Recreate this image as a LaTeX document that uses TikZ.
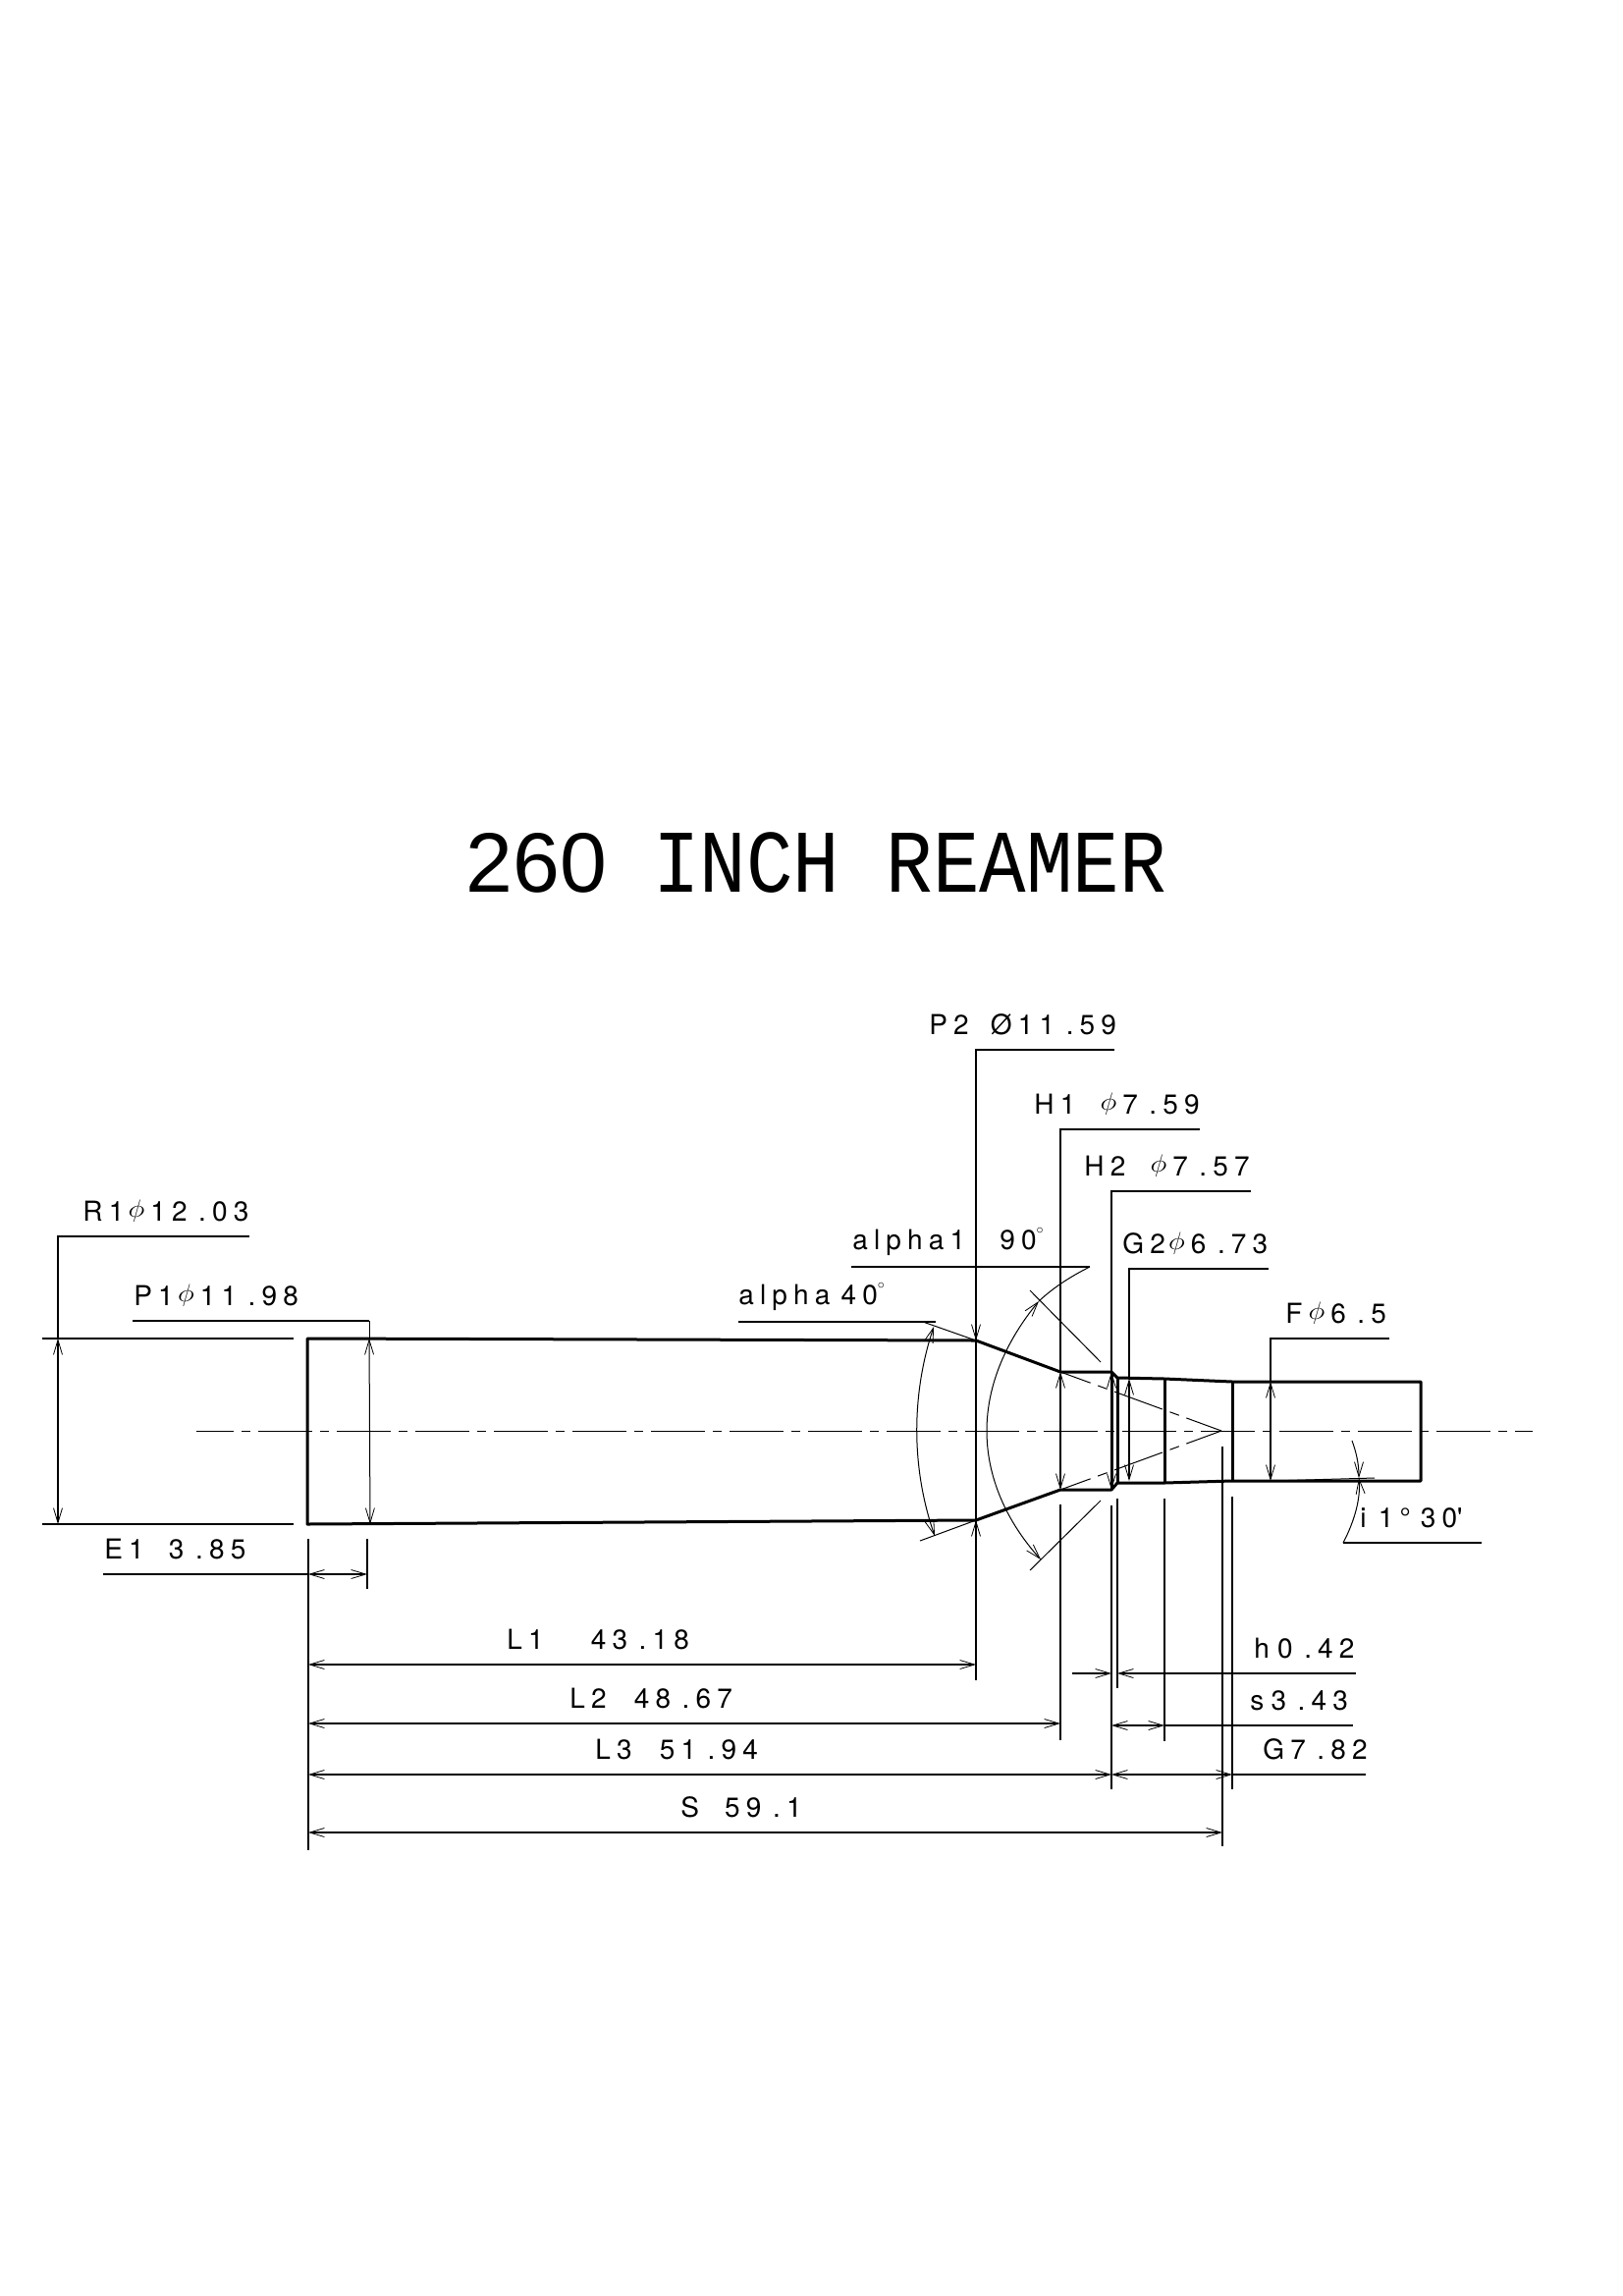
\documentclass[tikz,border=0pt]{standalone}
\usepackage{fontspec}
\usetikzlibrary{arrows.meta}
\newfontfamily\dimfont[LetterSpace=22]{TeX Gyre Heros}
\newfontfamily\titlefont[FakeStretch=0.87]{Liberation Mono}
\newfontfamily\titlenum{Liberation Sans}
\newcommand{\gapw}[1]{\hspace{\dimexpr#1pt+3.08pt\relax}}
\newcommand{\dia}{\gapw{0}\raisebox{.14em}{\scalebox{1}[.88]{$\phi$}}\hspace{3pt}}
\newcommand{\pd}{\gapw{2.7}.}
\newcommand{\degmark}{\raisebox{4pt}{\scalebox{.7}{$^{\circ}$}}}
\tikzset{
	x=.5pt,y=-.5pt,
	tip/.tip={Straight Barb[length=7.5pt,width=4.5pt,line width=.4pt]},
	part/.style={line width=1.5pt,line join=round},
	dim/.style={line width=.75pt},
	hair/.style={line width=.5pt},
	axis/.style={hair,dash pattern=on 27.5pt off 4pt on 4.5pt off 4pt,dash phase=8.5pt},
	cone/.style={hair,dash pattern=on 26pt off 4pt on 5pt off 4pt,dash phase=7pt},
	lbl/.style={anchor=base west,inner sep=0pt,font=\dimfont\fontsize{14pt}{16pt}\selectfont},
}
\begin{document}
\begin{tikzpicture}
		\useasboundingbox (0,0) rectangle (1653,2338);
		\node[anchor=base west,inner sep=0pt,font=\titlefont\fontsize{45.5pt}{50pt}\selectfont] (title) at (474,908) {{\titlenum\fontsize{43pt}{50pt}\selectfont 260} INCH REAMER};

		\draw[part] (313,1363)--(994,1365)--(1080,1397)--(1132,1397)--(1138,1403)--(1186,1404)--(1255,1407)--(1447,1407)--(1447,1508)--(1255,1508)--(1186,1510)--(1138,1510)--(1132,1517)--(1080,1517)--(994,1548)--(313,1552)--cycle;
		\draw[part] (1132,1397)--(1132,1517);
		\draw[part] (1138,1403)--(1138,1510);
		\draw[part] (1186,1404)--(1186,1510);
		\draw[part] (1255,1407)--(1255,1508);

		\draw[axis] (200,1457)--(1561,1457);
		\draw[cone] (1244,1457)--(1080,1397);
		\draw[cone] (1244,1457)--(1080,1517);

		\node[lbl] (R1) at (84,1243) {R1\gapw{-4}\dia12\pd03};
		\draw[dim] (254,1259)--(59,1259)--(59,1363);
		\draw[dim,tip-tip] (59,1363)--(59,1552);
		\draw[dim] (43,1363)--(299,1363);
		\draw[dim] (43,1552)--(299,1552);

		\node[lbl] (P1) at (136,1329) {P1\gapw{-4}\dia11\pd98};
		\draw[dim] (135,1345)--(376,1345);
		\draw[hair] (376,1345)--(376,1363);
		\draw[hair,tip-tip] (376,1363)--(377,1552);

		\node[lbl] (E1) at (106,1587) {E1\gapw{9.5}3\pd85};
		\draw[dim] (105,1603)--(314,1603);
		\draw[dim,tip-tip] (314,1603)--(374,1603);
		\draw[dim] (374,1567)--(374,1618);
		\draw[dim] (314,1567)--(314,1884);

		\node[lbl] (P2) at (946,1053) {P2\gapw{8}Ø11\pd59};
		\draw[dim] (1135,1069)--(994,1069)--(994,1711);
		\draw[dim,-tip] (994,1340)--(994,1365);
		\draw[dim,-tip] (994,1575)--(994,1548);

		\node[lbl] (H1) at (1053,1134) {H1\gapw{6.5}\dia7\pd59};
		\draw[dim] (1222,1150)--(1080,1150)--(1080,1397);
		\draw[dim,tip-tip] (1080,1397)--(1080,1517);
		\draw[dim] (1080,1532)--(1080,1772);

		\node[lbl] (H2) at (1104,1197) {H2\gapw{6.5}\dia7\pd57};
		\draw[dim] (1274,1213)--(1132,1213)--(1132,1397);
		\draw[dim,tip-tip] (1132,1397)--(1132,1517);
		\draw[dim] (1132,1533)--(1132,1822);
		\draw[dim] (1138,1526)--(1138,1719);

		\node[lbl] (G2) at (1143,1276) {G2\gapw{-4.5}\dia6\pd73};
		\draw[dim] (1292,1292)--(1150,1292)--(1150,1404);
		\draw[dim,tip-tip] (1150,1404)--(1150,1508);

		\node[lbl] (F) at (1309,1347) {F\dia6\pd5};
		\draw[dim] (1415,1363)--(1294,1363)--(1294,1407);
		\draw[dim,tip-tip] (1294,1407)--(1294,1508);

		\node[lbl] (alpha1) at (868,1272) {alpha1\gapw{14.5}90\degmark};
		\draw[dim] (867,1290)--(1110,1290);
		\draw[hair] (1110,1290) .. controls (1090,1300) and (1073,1311) .. (1058,1325);
		\draw[hair,tip-tip] (1058,1325) .. controls (1025,1365) and (1005,1410) .. (1005,1457) .. controls (1005,1510) and (1030,1555) .. (1060,1588);
		\draw[hair] (1049,1314)--(1121,1387);
		\draw[hair] (1121,1528)--(1049,1599);

		\node[lbl] (alpha) at (752,1328) {alpha\gapw{2.5}40\degmark};
		\draw[dim] (752,1346)--(953,1346);
		\draw[hair] (940,1346)--(994,1365);
		\draw[hair] (937,1569)--(994,1548);
		\draw[hair,tip-tip] (951,1351) .. controls (928,1420) and (928,1495) .. (952,1564);

		\node[lbl] (i) at (1385,1555) {i\gapw{3}1°\gapw{2}30\textquotesingle};
		\draw[dim] (1368,1571)--(1509,1571);
		\draw[hair,-tip] (1368,1571) .. controls (1380,1548) and (1386,1525) .. (1384,1505);
		\draw[hair,-tip] (1377,1467) .. controls (1381,1478) and (1384,1490) .. (1384,1505);
		\draw[hair] (1294,1508)--(1400,1505);

		\node[lbl] (L1) at (516,1679) {L1\gapw{21}43\pd18};
		\draw[dim,tip-tip] (314,1695)--(994,1695);
		\node[lbl] (L2) at (580,1739) {L2\gapw{11}48\pd67};
		\draw[dim,tip-tip] (314,1755)--(1080,1755);
		\node[lbl] (L3) at (606,1791) {L3\gapw{11}51\pd94};
		\draw[dim,tip-tip] (314,1807)--(1132,1807);
		\node[lbl] (S) at (693,1850) {S\gapw{10}59\pd1};
		\draw[dim,tip-tip] (314,1866)--(1245,1866);
		\draw[dim] (1245,1473)--(1245,1880);

		\node[lbl] (h) at (1277,1688) {h\gapw{1}0\pd42};
		\draw[dim,-tip] (1092,1704)--(1132,1704);
		\draw[dim,-tip] (1381,1704)--(1138,1704);
		\node[lbl] (s) at (1273,1741) {s\gapw{0.5}3\pd43};
		\draw[dim,tip-tip] (1132,1757)--(1186,1757);
		\draw[dim] (1186,1757)--(1378,1757);
		\draw[dim] (1186,1526)--(1186,1773);
		\node[lbl] (G) at (1286,1791) {G7\pd82};
		\draw[dim,tip-tip] (1132,1807)--(1255,1807);
		\draw[dim] (1255,1807)--(1391,1807);
		\draw[dim] (1255,1524)--(1255,1822);
\end{tikzpicture}
\end{document}
